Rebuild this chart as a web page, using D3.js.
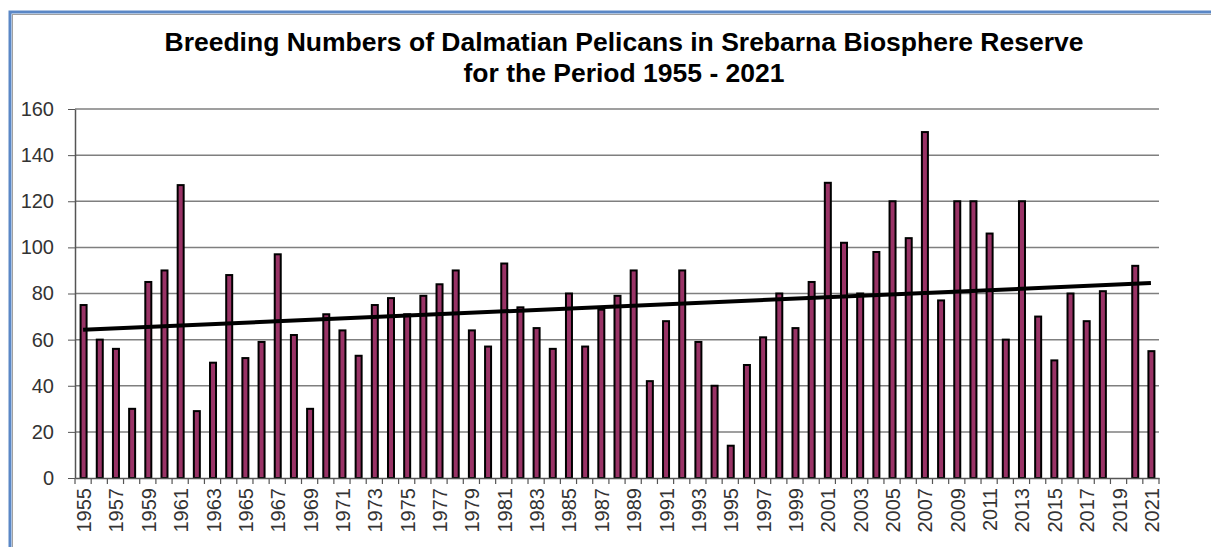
<!DOCTYPE html>
<html>
<head>
<meta charset="utf-8">
<script src="https://cdn.jsdelivr.net/npm/d3@7"></script>
<style>
  body { margin: 0; background: #fff; }
  text { font-family: "Liberation Sans", Arial, sans-serif; }
</style>
</head>
<body>
<div id="chart"></div>
<script>
// breeding pairs per year, 2019 has no bar
let years = [1955,1956,1957,1958,1959,1960,1961,1962,1963,1964,
  1965,1966,1967,1968,1969,1970,1971,1972,1973,1974,
  1975,1976,1977,1978,1979,1980,1981,1982,1983,1984,
  1985,1986,1987,1988,1989,1990,1991,1992,1993,1994,
  1995,1996,1997,1998,1999,2000,2001,2002,2003,2004,
  2005,2006,2007,2008,2009,2010,2011,2012,2013,2014,
  2015,2016,2017,2018,2019,2020,2021]
let pairs = [75,60,56,30,85,90,127,29,50,88,
  52,59,97,62,30,71,64,53,75,78,
  71,79,84,90,64,57,93,74,65,56,
  80,57,73,79,90,42,68,90,59,40,
  14,49,61,80,65,85,128,102,80,98,
  120,104,150,77,120,120,106,60,120,70,
  51,80,68,81,null,92,55]
// trend line values at 1955 and 2021
let trendYears = [1955, 2021]
let trendValues = [64.3, 84.5]
let yTicks = [0,20,40,60,80,100,120,140,160]
let titleLines = ["Breeding Numbers of Dalmatian Pelicans in Srebarna Biosphere Reserve",
  "for the Period 1955 - 2021"]

let W = 1211, H = 547
let plot = { left: 75, right: 1159, top: 109, bottom: 478 }

let svg = d3.select("#chart").append("svg")
  .attr("width", W)
  .attr("height", H)

// frame round the chart
svg.append("rect")
  .attr("x", 10).attr("y", 12)
  .attr("width", W + 20).attr("height", H + 20)
  .attr("fill", "none")
  .attr("stroke", "#5a87c6")
  .attr("stroke-width", 3)
svg.append("rect")
  .attr("x", 12.5).attr("y", 14.5)
  .attr("width", W + 20).attr("height", H + 20)
  .attr("fill", "none")
  .attr("stroke", "#a0a0a0")
  .attr("stroke-width", 1)

// title
svg.append("text")
  .attr("text-anchor", "middle")
  .style("font-size", "26.5px")
  .style("font-weight", "bold")
  .selectAll("tspan")
  .data(titleLines)
  .join("tspan")
  .attr("x", 624)
  .attr("y", (d, i) => 51 + i * 31)
  .text(d => d)

let x = d3.scaleBand()
  .domain(years)
  .range([plot.left, plot.right])
  .paddingInner(0)
  .paddingOuter(0)

let y = d3.scaleLinear()
  .domain([0, 160])
  .range([plot.bottom, plot.top])

// gridlines
svg.append("g")
  .selectAll("line")
  .data(yTicks.filter(d => d > 0))
  .join("line")
  .attr("x1", plot.left).attr("x2", plot.right)
  .attr("y1", d => y(d)).attr("y2", d => y(d))
  .attr("stroke", "#7f7f7f")
  .attr("stroke-width", 1.5)

// y axis
let yAxis = svg.append("g")
  .attr("transform", "translate(" + plot.left + ",0)")
  .call(d3.axisLeft(y).tickValues(yTicks).tickSize(7).tickPadding(14).tickSizeOuter(0))
yAxis.select(".domain").attr("stroke", "#555").attr("stroke-width", 1.5)
yAxis.selectAll(".tick line").attr("stroke", "#555")
yAxis.selectAll("text")
  .style("font-size", "20px")
  .style("font-family", "Liberation Sans, Arial, sans-serif")
  .attr("fill", "#333")

// bars
let barW = 6
svg.append("g")
  .selectAll("rect")
  .data(years.map((yr, i) => ({ year: yr, value: pairs[i] })).filter(d => d.value != null))
  .join("rect")
  .attr("x", d => x(d.year) + x.bandwidth() / 2 - barW / 2 + 0.5)
  .attr("y", d => y(d.value))
  .attr("width", barW)
  .attr("height", d => y(0) - y(d.value))
  .attr("fill", "#993366")
  .attr("stroke", "#000")
  .attr("stroke-width", 2)

// x axis
let xAxis = svg.append("g")
  .attr("transform", "translate(0," + plot.bottom + ")")
  .call(d3.axisBottom(x)
    .tickSize(0)
    .tickFormat(d => (d % 2 === 1 ? d : "")))
xAxis.select(".domain").attr("stroke", "#555").attr("stroke-width", 1.5)
xAxis.selectAll("text")
  .attr("transform", "rotate(-90)")
  .attr("x", -10)
  .attr("y", 1)
  .attr("dy", "0.35em")
  .attr("text-anchor", "end")
  .style("font-size", "20px")
  .style("font-family", "Liberation Sans, Arial, sans-serif")
  .attr("fill", "#333")

// tick marks between categories
svg.append("g")
  .selectAll("line")
  .data(years.concat(["end"]))
  .join("line")
  .attr("x1", d => d === "end" ? plot.right : x(d))
  .attr("x2", d => d === "end" ? plot.right : x(d))
  .attr("y1", plot.bottom)
  .attr("y2", plot.bottom + 6)
  .attr("stroke", "#555")
  .attr("stroke-width", 1.2)

// linear trend
let trend = trendYears.map((yr, i) => [x(yr) + x.bandwidth() / 2, y(trendValues[i])])
svg.append("path")
  .attr("d", d3.line()(trend))
  .attr("stroke", "#000")
  .attr("stroke-width", 4)
  .attr("fill", "none")
</script>
</body>
</html>
